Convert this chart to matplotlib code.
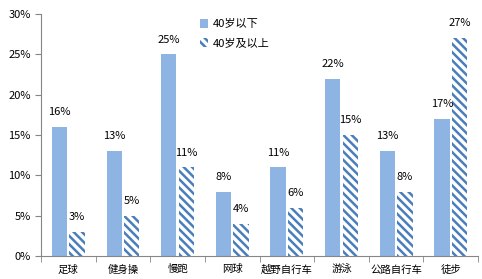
import numpy as np
import matplotlib.pyplot as plt
from matplotlib.ticker import FixedLocator, PercentFormatter

plt.rcParams['font.family'] = ['Noto Sans CJK SC', 'DejaVu Sans']
plt.rcParams['hatch.linewidth'] = 1.8

categories = ['足球', '健身操', '慢跑', '网球', '越野自行车', '游泳', '公路自行车', '徒步']
under40 = [16, 13, 25, 8, 11, 22, 13, 17]
over40 = [3, 5, 11, 4, 6, 15, 8, 27]
series_names = ['40岁以下', '40岁及以上']

fig = plt.figure(figsize=(4.82, 2.79), dpi=100)
ax = fig.add_axes([0.085, 0.082, 0.907, 0.868])

x = np.arange(len(categories))
w = 0.28
b1 = ax.bar(x - w / 2 - 0.02, under40, w, color='#8EB4E3', label=series_names[0])
b2 = ax.bar(x + w / 2 + 0.02, over40, w, facecolor='white', edgecolor='#4A7EBB', linewidth=0,
            hatch='\\' * 4, label=series_names[1])

for rect, v in zip(b1, under40):
    ax.text(rect.get_x() + rect.get_width() / 2, v + 1.2, f'{v}%', ha='center', va='bottom', fontsize=8)
for rect, v in zip(b2, over40):
    ax.text(rect.get_x() + rect.get_width() / 2, v + 1.2, f'{v}%', ha='center', va='bottom', fontsize=8)

ax.set_xlim(-0.5, len(categories) - 0.5)
ax.set_ylim(0, 30)
ax.set_yticks(range(0, 31, 5))
ax.yaxis.set_major_formatter(PercentFormatter(decimals=0))
ax.set_xticks(x)
ax.set_xticklabels(categories)
ax.xaxis.set_minor_locator(FixedLocator(np.arange(-0.5, len(categories), 1)))
ax.tick_params(axis='x', which='major', length=0, labelsize=7.5, pad=6)
ax.tick_params(axis='x', which='minor', length=4, color='#868686')
ax.tick_params(axis='y', length=4, color='#868686', labelsize=8)

for s in ['top', 'right']:
    ax.spines[s].set_visible(False)
for s in ['left', 'bottom']:
    ax.spines[s].set_color('#868686')

ax.legend(loc='upper left', bbox_to_anchor=(0.34, 1.02), frameon=False, fontsize=8,
          handlelength=0.8, handleheight=0.8, handletextpad=0.4, labelspacing=0.8)

fig.savefig('out.png', dpi=100)
